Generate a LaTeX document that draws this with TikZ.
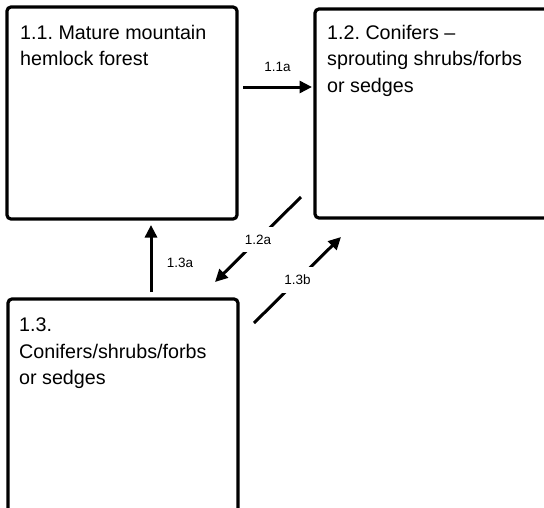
\documentclass[tikz,border=0pt]{standalone}
\usepackage{fontspec}
\setmainfont{Liberation Sans}
\usetikzlibrary{positioning, arrows.meta}
\frenchspacing

\tikzset{
  state/.style={draw, line width=3.2pt, rounded corners=4pt, outer sep=0pt, inner sep=0pt},
  statetext/.style={anchor=north west, align=left, inner sep=0pt, font=\fontsize{19.7}{26.5}\selectfont},
  trans/.style={line width=3pt, -{Triangle[length=12.5pt, width=12pt]}},
  translabel/.style={font=\fontsize{13.5}{15}\selectfont},
  cutlabel/.style={translabel, fill=white, inner sep=8pt}
}

\begin{document}
\begin{tikzpicture}[x=1pt, y=-1pt]
  \useasboundingbox (0,0) rectangle (544,507);
  \clip (0,0) rectangle (544,507);

  \node[state, minimum width=230pt, minimum height=212pt] (s11) at (122,113) {};
  \node[state, minimum width=250pt, minimum height=209pt] (s12) at (440,113.5) {};
  \node[state, minimum width=230pt, minimum height=230pt] (s13) at (123,414) {};

  \node[statetext] (t11) at ([shift={(13,18)}]s11.north west) {1.1. Mature mountain\\hemlock forest};
  \node[statetext] (t12) at ([shift={(12,16)}]s12.north west) {1.2. Conifers --\\sprouting shrubs/forbs\\or sedges};
  \node[statetext] (t13) at ([shift={(11,19)}]s13.north west) {1.3.\\Conifers/shrubs/forbs\\or sedges};

  \path ([shift={(6,80)}]s11.north east) edge[trans] node[translabel, midway, above=11pt] {1.1a} ([shift={(-3,78)}]s12.north west);
  \path ([shift={(-14,-21)}]s12.south west) edge[trans] node[cutlabel, midway] {1.2a} ([shift={(-23,-17)}]s13.north east);
  \path ([shift={(28,-7)}]s13.north) edge[trans] node[translabel, midway, right=11pt, yshift=-4pt] {1.3a} ([shift={(29,6)}]s11.south);
  \path ([shift={(16,24)}]s13.north east) edge[trans] node[cutlabel, midway] {1.3b} ([shift={(26,19)}]s12.south west);
\end{tikzpicture}
\end{document}
